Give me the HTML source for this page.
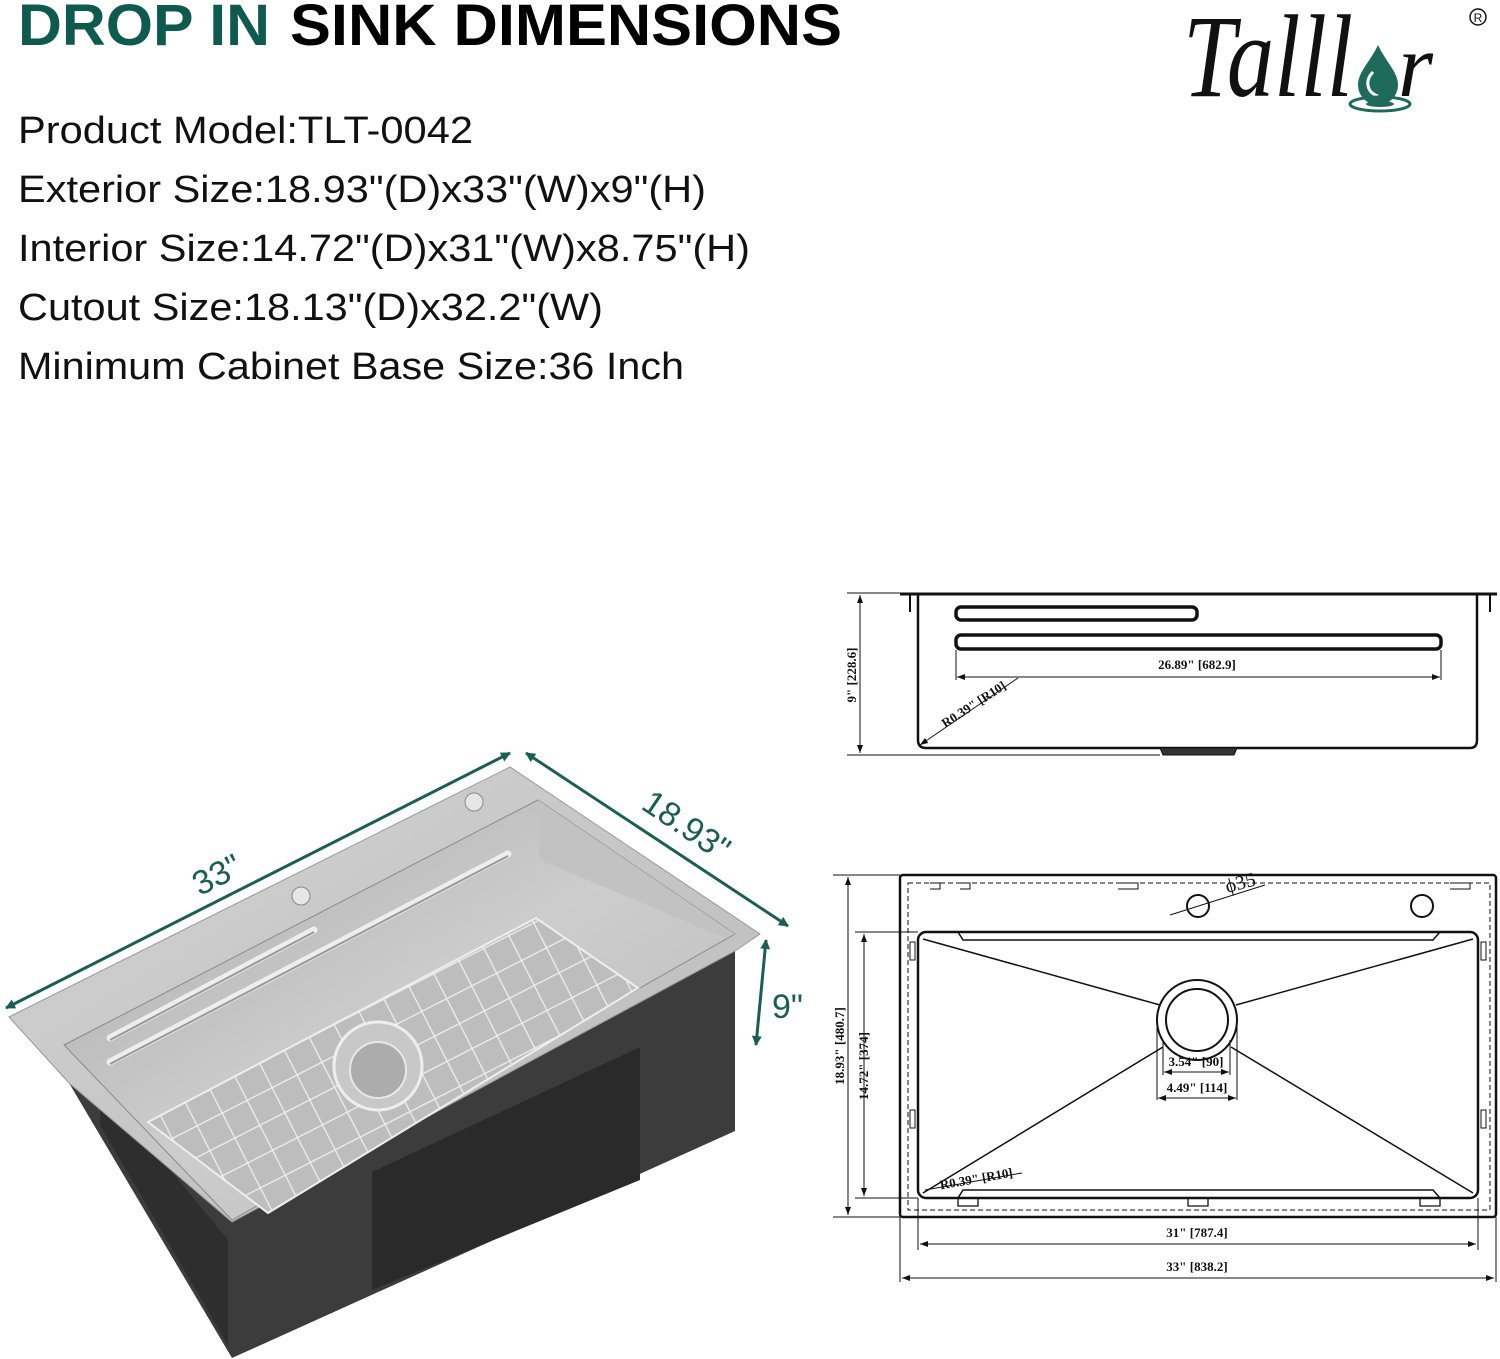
<!DOCTYPE html>
<html><head><meta charset="utf-8"><style>
html,body{margin:0;padding:0;background:#fff;}
svg{display:block;}
</style></head><body>
<svg width="1500" height="1359" viewBox="0 0 1500 1359" xmlns="http://www.w3.org/2000/svg" font-family="Liberation Sans, sans-serif">
<defs>
<marker id="ga" markerWidth="10" markerHeight="10" refX="9" refY="5" orient="auto-start-reverse" markerUnits="userSpaceOnUse"><path d="M0,0 L10,5 L0,10 z" fill="#1b5e54"/></marker>
<marker id="ka" markerWidth="8" markerHeight="6" refX="8" refY="3" orient="auto-start-reverse" markerUnits="userSpaceOnUse"><path d="M0,0 L8,3 L0,6 z" fill="#111"/></marker>
<linearGradient id="deck" x1="0" y1="0" x2="1" y2="1"><stop offset="0" stop-color="#d4d4d4"/><stop offset="1" stop-color="#b9b9b9"/></linearGradient>
<linearGradient id="basin" x1="0" y1="0" x2="1" y2="1"><stop offset="0" stop-color="#a9a9a9"/><stop offset="0.5" stop-color="#cdcdcd"/><stop offset="1" stop-color="#b8b8b8"/></linearGradient>
<pattern id="grid" width="28" height="28" patternUnits="userSpaceOnUse" patternTransform="rotate(-27)"><path d="M0,0 H28 M0,0 V28" stroke="#efefef" stroke-width="2.5" fill="none"/></pattern>
</defs>

<!-- Header -->
<text x="18" y="45" font-size="58" font-weight="bold" fill="#0f5a4e" textLength="252" lengthAdjust="spacingAndGlyphs">DROP IN</text>
<text x="290" y="45" font-size="58" font-weight="bold" fill="#000" textLength="552" lengthAdjust="spacingAndGlyphs">SINK DIMENSIONS</text>
<g font-size="38" fill="#111">
<text x="18" y="143" textLength="455" lengthAdjust="spacingAndGlyphs">Product Model:TLT-0042</text>
<text x="18" y="202" textLength="688" lengthAdjust="spacingAndGlyphs">Exterior Size:18.93"(D)x33"(W)x9"(H)</text>
<text x="18" y="261" textLength="732" lengthAdjust="spacingAndGlyphs">Interior Size:14.72"(D)x31"(W)x8.75"(H)</text>
<text x="18" y="320" textLength="585" lengthAdjust="spacingAndGlyphs">Cutout Size:18.13"(D)x32.2"(W)</text>
<text x="18" y="379" textLength="666" lengthAdjust="spacingAndGlyphs">Minimum Cabinet Base Size:36 Inch</text>
</g>

<!-- Logo -->
<text x="1183" y="96" font-size="118" font-style="italic" font-family="Liberation Serif, serif" fill="#111" textLength="170" lengthAdjust="spacingAndGlyphs">Talll</text>
<text x="1398" y="96" font-size="90" font-style="italic" font-family="Liberation Serif, serif" fill="#111">r</text>
<path d="M1378,45 C1370,62 1358,72 1358,85 A20,20 0 0 0 1398,85 C1398,72 1386,62 1378,45 Z" fill="#1e6b5c"/>
<path d="M1373,72 C1365,80 1366,92 1378,96" stroke="#fff" stroke-width="3" fill="none"/>
<ellipse cx="1380" cy="104" rx="30" ry="7" fill="none" stroke="#1e6b5c" stroke-width="3"/>
<ellipse cx="1380" cy="104" rx="14" ry="3" fill="#1e6b5c"/>
<circle cx="1478" cy="17" r="8" fill="none" stroke="#111" stroke-width="1.5"/>
<text x="1478" y="22" font-size="12" text-anchor="middle" fill="#111">R</text>

<!-- 3D sink -->
<polygon points="69,1083 232,1358 735,1131 735,951 232,1222" fill="#3c3c3c"/>
<polygon points="100,1125 228,1345 228,1240 100,1085" fill="#2e2e2e"/>
<polygon points="372,1172 640,1047 640,1180 372,1290" fill="#2a2a2a"/>
<polygon points="9,1017 510,767 760,934 735,951 232,1222 69,1083" fill="url(#deck)" stroke="#999"/>
<polygon points="64,1045 538,800 735,934 232,1220" fill="url(#basin)" stroke="#8a8a8a"/>
<polygon points="538,800 735,934 725,938 540,860" fill="#c2c2c2"/>
<polygon points="148,1122 536,918 638,988 268,1213" fill="#bdbdbd"/>
<polygon points="148,1122 536,918 638,988 268,1213" fill="url(#grid)" stroke="#eee" stroke-width="2"/>
<circle cx="378" cy="1066" r="44" fill="#c8c8c8" stroke="#eee" stroke-width="3"/>
<circle cx="378" cy="1070" r="28" fill="#acacac" stroke="#e8e8e8" stroke-width="2"/>
<circle cx="474" cy="802" r="9" fill="#e6e6e6" stroke="#888"/>
<circle cx="301" cy="896" r="9" fill="#e6e6e6" stroke="#888"/>
<line x1="110" y1="1038" x2="314" y2="930" stroke="#eee" stroke-width="7" stroke-linecap="round"/>
<line x1="110" y1="1040" x2="314" y2="932" stroke="#999" stroke-width="2"/>
<line x1="110" y1="1062" x2="508" y2="854" stroke="#eee" stroke-width="7" stroke-linecap="round"/>
<line x1="110" y1="1064" x2="508" y2="856" stroke="#999" stroke-width="2"/>

<!-- green dims -->
<g stroke="#1b5e54" stroke-width="3" fill="none">
<line x1="6" y1="1008" x2="510" y2="753" marker-start="url(#ga)" marker-end="url(#ga)"/>
<line x1="526" y1="753" x2="788" y2="926" marker-start="url(#ga)" marker-end="url(#ga)"/>
<line x1="766" y1="940" x2="756" y2="1045" marker-start="url(#ga)" marker-end="url(#ga)"/>
</g>
<g fill="#1b5e54" font-size="34">
<text x="222" y="885" transform="rotate(-27 222 885)" text-anchor="middle">33"</text>
<text x="680" y="835" transform="rotate(34 680 835)" text-anchor="middle">18.93"</text>
<text x="772" y="1018">9"</text>
</g>

<!-- Side view -->
<g stroke="#111" fill="none" font-family="Liberation Serif, serif">
<line x1="900" y1="594" x2="1497" y2="594" stroke-width="3"/>
<line x1="910" y1="594" x2="910" y2="612" stroke-width="2"/>
<line x1="1490" y1="594" x2="1490" y2="612" stroke-width="2"/>
<path d="M918,594 V740 Q918,748 926,748 H1470 Q1477,748 1477,740 V594" stroke-width="2.5"/>
<path d="M1160,748 H1237 L1234,755 H1163 Z" fill="#333"/>
<line x1="847" y1="593" x2="915" y2="593" stroke-width="1"/>
<line x1="847" y1="755" x2="1160" y2="755" stroke-width="1"/>
<line x1="860" y1="595" x2="860" y2="753" stroke-width="1" marker-start="url(#ka)" marker-end="url(#ka)"/>
<rect x="956" y="607" width="241" height="13" rx="5" stroke-width="3.5"/>
<rect x="956" y="635" width="485" height="14" rx="5" stroke-width="3.5"/>
<line x1="956" y1="650" x2="956" y2="680" stroke-width="1"/>
<line x1="1441" y1="650" x2="1441" y2="680" stroke-width="1"/>
<line x1="957" y1="677" x2="1440" y2="677" stroke-width="1" marker-start="url(#ka)" marker-end="url(#ka)"/>
<line x1="1018" y1="678" x2="920" y2="745" stroke-width="1" marker-end="url(#ka)"/>
</g>
<g font-family="Liberation Serif, serif" font-weight="bold" font-size="13" fill="#111">
<text x="1197" y="669" text-anchor="middle">26.89" [682.9]</text>
<text x="976" y="708" transform="rotate(-33 976 708)" text-anchor="middle">R0.39" [R10]</text>
<text x="856" y="675" transform="rotate(-90 856 675)" text-anchor="middle">9" [228.6]</text>
</g>

<!-- Plan view -->
<g stroke="#111" fill="none">
<rect x="900" y="875" width="596" height="342" rx="3" stroke-width="2.5"/>
<rect x="908" y="883" width="582" height="327" stroke-width="1" stroke-dasharray="5,3"/>
<rect x="918" y="932" width="560" height="266" rx="8" stroke-width="2.5"/>
<line x1="923" y1="939" x2="1160" y2="1005" stroke-width="1.5"/>
<line x1="1473" y1="939" x2="1236" y2="1005" stroke-width="1.5"/>
<line x1="923" y1="1193" x2="1163" y2="1047" stroke-width="1.5"/>
<line x1="1473" y1="1193" x2="1231" y2="1047" stroke-width="1.5"/>
<circle cx="1197" cy="1020" r="40" stroke-width="2" fill="#fff"/>
<circle cx="1197" cy="1020" r="31" stroke-width="2"/>
<circle cx="1198" cy="906" r="11" stroke-width="2"/>
<circle cx="1422" cy="906" r="11" stroke-width="2"/>
<path d="M958,932 L963,940 H1433 L1440,932" stroke-width="1.5"/>
<path d="M958,1198 L963,1190 H1433 L1440,1198" stroke-width="1.5"/>
<line x1="1170" y1="915" x2="1265" y2="885" stroke-width="1"/>
<path d="M930,883 h10 v6 h-10 M960,883 h10 v6 h-10" stroke-width="1"/>
<path d="M1118,883 h20 v6 h-20" stroke-width="1"/>
<path d="M1450,883 h20 v6 h-20" stroke-width="1"/>
<path d="M958,1198 h20 v8 h-20 z M1188,1198 h20 v8 h-20 z M1420,1198 h20 v8 h-20 z" stroke-width="1.3"/>
<path d="M910,942 v18 h5 v-18 z M910,1110 v18 h5 v-18 z M1481,942 v18 h5 v-18 z M1481,1110 v18 h5 v-18 z" stroke-width="1"/>
<line x1="833" y1="875" x2="900" y2="875" stroke-width="1"/>
<line x1="833" y1="1217" x2="900" y2="1217" stroke-width="1"/>
<line x1="848" y1="877" x2="848" y2="1215" stroke-width="1" marker-start="url(#ka)" marker-end="url(#ka)"/>
<line x1="855" y1="932" x2="918" y2="932" stroke-width="1"/>
<line x1="855" y1="1198" x2="918" y2="1198" stroke-width="1"/>
<line x1="864" y1="934" x2="864" y2="1196" stroke-width="1" marker-start="url(#ka)" marker-end="url(#ka)"/>
<line x1="918" y1="1198" x2="918" y2="1250" stroke-width="1"/>
<line x1="1478" y1="1198" x2="1478" y2="1250" stroke-width="1"/>
<line x1="920" y1="1244" x2="1476" y2="1244" stroke-width="1" marker-start="url(#ka)" marker-end="url(#ka)"/>
<line x1="900" y1="1217" x2="900" y2="1282" stroke-width="1"/>
<line x1="1496" y1="1217" x2="1496" y2="1282" stroke-width="1"/>
<line x1="902" y1="1278" x2="1494" y2="1278" stroke-width="1" marker-start="url(#ka)" marker-end="url(#ka)"/>
<line x1="1157" y1="1020" x2="1157" y2="1100" stroke-width="1"/>
<line x1="1237" y1="1020" x2="1237" y2="1100" stroke-width="1"/>
<line x1="1163" y1="1040" x2="1163" y2="1075" stroke-width="1"/>
<line x1="1230" y1="1040" x2="1230" y2="1075" stroke-width="1"/>
<line x1="1164" y1="1072" x2="1229" y2="1072" stroke-width="1" marker-start="url(#ka)" marker-end="url(#ka)"/>
<line x1="1158" y1="1098" x2="1236" y2="1098" stroke-width="1" marker-start="url(#ka)" marker-end="url(#ka)"/>
<line x1="925" y1="1190" x2="1022" y2="1173" stroke-width="1"/>
</g>
<g font-family="Liberation Serif, serif" font-weight="bold" font-size="13" fill="#111">
<text x="1197" y="1237" text-anchor="middle">31" [787.4]</text>
<text x="1197" y="1271" text-anchor="middle">33" [838.2]</text>
<text x="1196" y="1066" text-anchor="middle">3.54" [90]</text>
<text x="1197" y="1092" text-anchor="middle">4.49" [114]</text>
<text x="977" y="1183" transform="rotate(-10 977 1183)" text-anchor="middle">R0.39" [R10]</text>
<text x="844" y="1046" transform="rotate(-90 844 1046)" text-anchor="middle">18.93" [480.7]</text>
<text x="868" y="1066" transform="rotate(-90 868 1066)" text-anchor="middle">14.72" [374]</text>
<text x="1242" y="889" transform="rotate(-15 1242 889)" text-anchor="middle" font-size="20" font-weight="normal">ϕ35</text>
</g>
</svg>
</body></html>
